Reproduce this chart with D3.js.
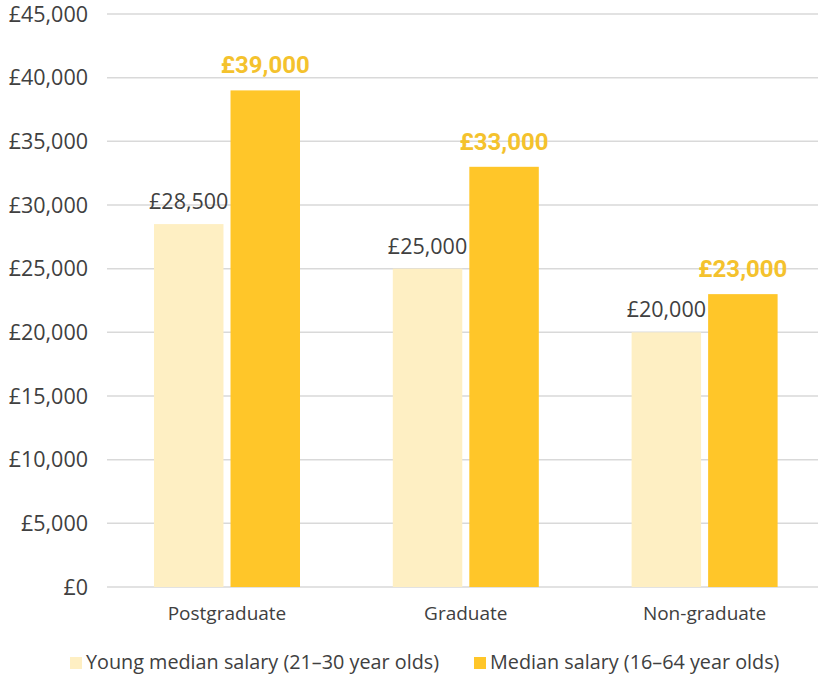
<!DOCTYPE html>
<html>
<head>
<meta charset="utf-8">
<script src="https://cdn.jsdelivr.net/npm/d3@7"></script>
<style>
  body { margin: 0; background: #fff; }
  svg { display: block; }
  text { font-family: "Open Sans", Roboto, sans-serif; fill: #404040; }
</style>
</head>
<body>
<div id="chart"></div>
<script>
// chart data
const categories = ['Postgraduate', 'Graduate', 'Non-graduate'];
const seriesNames = ['Young median salary (21\u201330 year olds)', 'Median salary (16\u201364 year olds)'];
const youngSalary = [28500, 25000, 20000];
const medianSalary = [39000, 33000, 23000];
const yTicks = [0, 5000, 10000, 15000, 20000, 25000, 30000, 35000, 40000, 45000];

const width = 818, height = 679;
const colors = ['#feefc3', '#ffc629'];
const labelColors = ['#404040', '#f4c22d'];

const svg = d3.select('#chart').append('svg')
  .attr('width', width)
  .attr('height', height);

const x = d3.scaleBand().domain(categories).range([107.6, 824]);
const groupWidth = 146;
const xInner = d3.scaleBand().domain([0, 1])
  .range([(x.bandwidth() - groupWidth) / 2, (x.bandwidth() + groupWidth) / 2])
  .paddingInner(0.092);
const y = d3.scaleLinear().domain([0, 45000]).range([587, 14]);

const fmt = function (v) { return '\u00a3' + d3.format(',')(v); };

// gridlines + y labels
const grid = svg.append('g');
grid.selectAll('line').data(yTicks).enter().append('line')
  .attr('x1', 107).attr('x2', width)
  .attr('y1', function (d) { return y(d); })
  .attr('y2', function (d) { return y(d); })
  .style('stroke', '#d9d9d9')
  .style('stroke-width', 1.5);
grid.selectAll('text').data(yTicks).enter().append('text')
  .attr('x', 88)
  .attr('y', function (d) { return y(d); })
  .attr('dy', '0.35em')
  .attr('text-anchor', 'end')
  .style('font-size', '21.5px')
  .text(fmt);

// bars
const rows = categories.map(function (c, i) {
  return { cat: c, values: [youngSalary[i], medianSalary[i]] };
});
const groups = svg.selectAll('g.group').data(rows).enter().append('g')
  .attr('class', 'group')
  .attr('transform', function (d) { return 'translate(' + x(d.cat) + ',0)'; });

groups.selectAll('rect').data(function (d) { return d.values; }).enter().append('rect')
  .attr('x', function (d, i) { return xInner(i); })
  .attr('width', xInner.bandwidth())
  .attr('y', function (d) { return y(d); })
  .attr('height', function (d) { return y(0) - y(d); })
  .style('fill', function (d, i) { return colors[i]; });

groups.selectAll('text.value').data(function (d) { return d.values; }).enter().append('text')
  .attr('class', 'value')
  .attr('x', function (d, i) { return xInner(i) + xInner.bandwidth() / 2; })
  .attr('y', function (d, i) { return y(d) - (i ? 17 : 15); })
  .attr('text-anchor', 'middle')
  .style('font-family', function (d, i) { return i ? 'Roboto, sans-serif' : null; })
  .style('font-size', function (d, i) { return i ? '24px' : '21.5px'; })
  .style('font-weight', function (d, i) { return i ? 700 : 400; })
  .style('fill', function (d, i) { return labelColors[i]; })
  .text(fmt);

// category labels
svg.selectAll('text.cat').data(categories).enter().append('text')
  .attr('class', 'cat')
  .attr('x', function (d) { return x(d) + x.bandwidth() / 2; })
  .attr('y', 620)
  .attr('text-anchor', 'middle')
  .style('font-size', '19px')
  .text(function (d) { return d; });

// legend
const legendX = [70, 474];
const legend = svg.selectAll('g.legend').data(seriesNames).enter().append('g')
  .attr('class', 'legend')
  .attr('transform', function (d, i) { return 'translate(' + legendX[i] + ',657)'; });
legend.append('rect')
  .attr('width', 12).attr('height', 12)
  .style('fill', function (d, i) { return colors[i]; });
legend.append('text')
  .attr('x', 16).attr('y', 11.5)
  .style('font-size', '19.8px')
  .text(function (d) { return d; });
</script>
</body>
</html>
